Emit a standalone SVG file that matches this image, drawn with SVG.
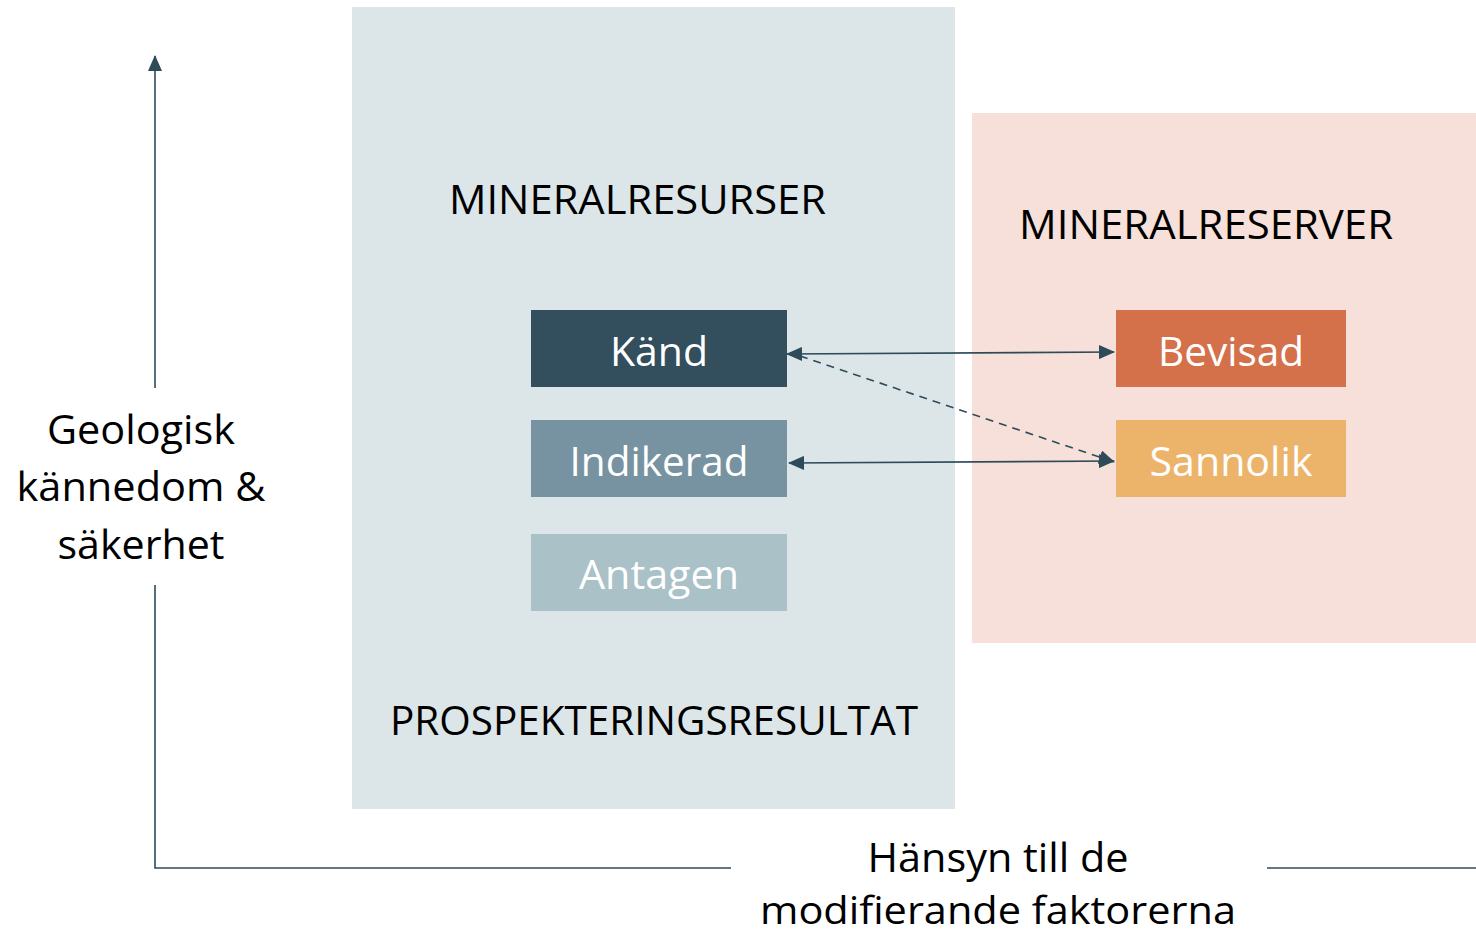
<svg xmlns="http://www.w3.org/2000/svg" width="1476" height="934" viewBox="0 0 1476 934">
<style>
text{font-family:"Open Sans","Noto Sans",sans-serif;text-anchor:middle}
.lbl{font-size:40px;fill:#000}
.box{font-size:41px;fill:#fff}
.ln{stroke:#2f4b5a;stroke-width:1.6;fill:none}
</style>
<defs>
<marker id="ah" viewBox="0 0 16 14" refX="15" refY="7" markerWidth="16" markerHeight="14" markerUnits="userSpaceOnUse" orient="auto-start-reverse">
<path d="M0,0 L16,7 L0,14 Z" fill="#2f4b5a"/>
</marker>
</defs>
<rect width="1476" height="934" fill="#fff"/>
<g id="resurser">
<rect x="352" y="7" width="603" height="802" fill="#dce6e8"/>
<text class="lbl" x="637.5" y="214" textLength="377" lengthAdjust="spacingAndGlyphs">MINERALRESURSER</text>
<text class="lbl" x="654" y="735" textLength="528" lengthAdjust="spacingAndGlyphs">PROSPEKTERINGSRESULTAT</text>
</g>
<g id="reserver">
<rect x="972" y="113" width="504" height="530" fill="#f6e0d9"/>
<text class="lbl" x="1206" y="239" textLength="374" lengthAdjust="spacingAndGlyphs">MINERALRESERVER</text>
</g>
<g id="kand">
<rect x="531" y="310" width="256" height="77" fill="#334e5c"/>
<text class="box" x="659" y="366">Känd</text>
</g>
<g id="indikerad">
<rect x="531" y="420" width="256" height="77" fill="#7792a0"/>
<text class="box" x="659" y="476" textLength="179" lengthAdjust="spacingAndGlyphs">Indikerad</text>
</g>
<g id="antagen">
<rect x="531" y="534" width="256" height="77" fill="#a9c1c7"/>
<text class="box" x="659" y="589" textLength="160" lengthAdjust="spacingAndGlyphs">Antagen</text>
</g>
<g id="bevisad">
<rect x="1116" y="310" width="230" height="77" fill="#d5714a"/>
<text class="box" x="1231" y="366" textLength="146" lengthAdjust="spacingAndGlyphs">Bevisad</text>
</g>
<g id="sannolik">
<rect x="1116" y="420" width="230" height="77" fill="#ecb46a"/>
<text class="box" x="1231" y="476" textLength="163" lengthAdjust="spacingAndGlyphs">Sannolik</text>
</g>
<g id="axis-y">
<text class="lbl" x="141" y="444" textLength="188" lengthAdjust="spacingAndGlyphs">Geologisk</text>
<text class="lbl" x="141" y="501" textLength="249" lengthAdjust="spacingAndGlyphs">kännedom &amp;</text>
<text class="lbl" x="141" y="559" textLength="167" lengthAdjust="spacingAndGlyphs">säkerhet</text>
</g>
<g id="axis-x">
<text class="lbl" x="998" y="872" textLength="261" lengthAdjust="spacingAndGlyphs">Hänsyn till de</text>
<text class="lbl" x="998" y="924" font-size="38" style="font-size:38px" textLength="476" lengthAdjust="spacingAndGlyphs">modifierande faktorerna</text>
</g>
<g id="connectors">
<line class="ln" x1="155" y1="388" x2="155" y2="56" marker-end="url(#ah)"/>
<polyline class="ln" points="155,585 155,868 731,868"/>
<line class="ln" x1="1267" y1="868" x2="1476" y2="868"/>
<line class="ln" x1="787" y1="354" x2="1114" y2="352" marker-start="url(#ah)" marker-end="url(#ah)"/>
<line class="ln" x1="789" y1="463" x2="1114" y2="461" marker-start="url(#ah)" marker-end="url(#ah)"/>
<line class="ln" x1="800" y1="356" x2="1114" y2="462" stroke-dasharray="8,6" marker-end="url(#ah)"/>
</g>
</svg>
